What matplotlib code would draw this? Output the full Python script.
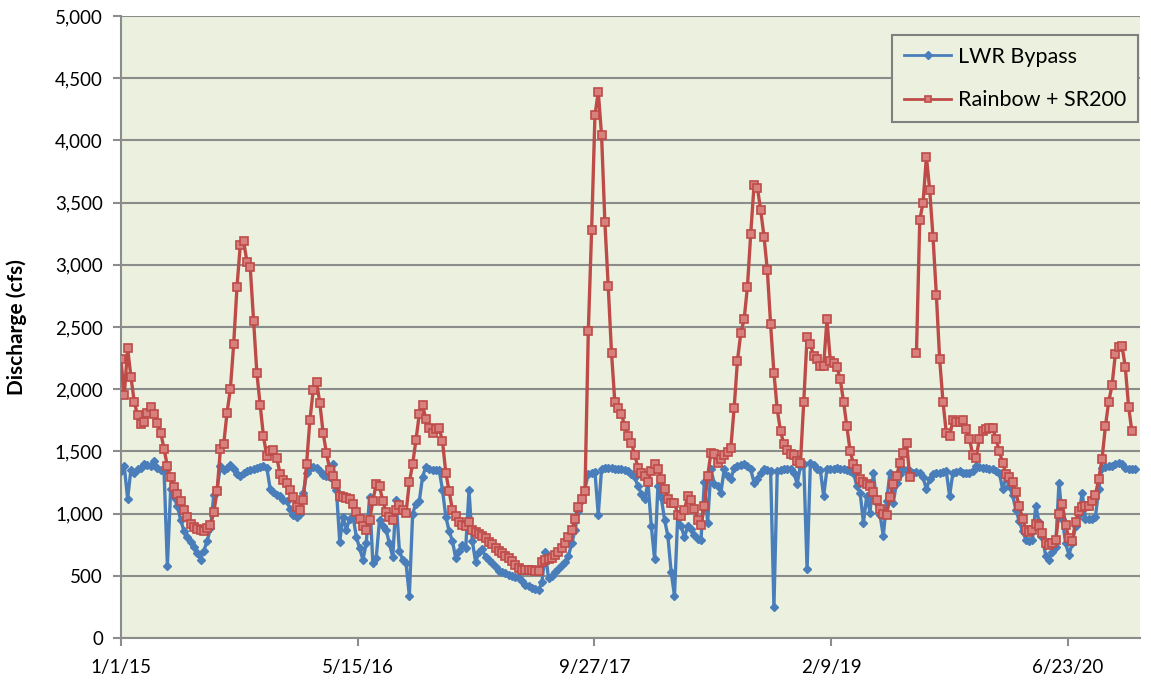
import numpy as np
import pandas as pd
import matplotlib
matplotlib.use("Agg")
import matplotlib.pyplot as plt
from matplotlib.ticker import FuncFormatter, MultipleLocator

plt.rcParams['font.family'] = ['Lato', 'DejaVu Sans']

# weekly readings starting 1/1/15 (cfs)
start = pd.Timestamp('2015-01-01')

lwr_bypass = [
    1340, 1380, 1120, 1350, 1330, 1360, 1370, 1400, 1390, 1380,
    1420, 1370, 1350, 1340, 580, 1200, 1130, 1060, 950, 860,
    810, 770, 730, 680, 630, 700, 780, 880, 1150, 1200,
    1380, 1350, 1370, 1390, 1360, 1320, 1300, 1330, 1345, 1350,
    1360, 1370, 1375, 1380, 1370, 1200, 1170, 1150, 1140, 1110,
    1100, 1040, 990, 975, 1000, 1163, 1324, 1370, 1377, 1370,
    1340, 1310, 1300, 1297, 1400, 1190, 775, 976, 870, 960,
    980, 815, 720, 630, 760, 1136, 600, 640, 949, 900,
    868, 760, 650, 1110, 700, 627, 600, 340, 1000, 1080,
    1100, 1297, 1377, 1360, 1350, 1350, 1351, 1190, 976, 860,
    780, 640, 700, 750, 720, 1186, 780, 610, 690, 718,
    650, 628, 600, 570, 540, 530, 520, 510, 500, 490,
    480, 460, 425, 415, 405, 395, 386, 447, 688, 480,
    500, 530, 555, 585, 610, 660, 760, 869, 1020, 1111,
    1201, 1322, 1330, 1337, 990, 1360, 1367, 1367, 1365, 1360,
    1362, 1356, 1350, 1342, 1320, 1290, 1220, 1160, 1115, 1249,
    901, 634, 1222, 1130, 950, 821, 527, 340, 1000, 900,
    808, 901, 874, 830, 794, 790, 1250, 928, 1356, 1240,
    1222, 1169, 1356, 1300, 1276, 1370, 1382, 1390, 1396, 1380,
    1356, 1249, 1280, 1330, 1356, 1350, 1342, 250, 1342, 1350,
    1356, 1356, 1360, 1330, 1240, 1380, 1400, 553, 1409, 1390,
    1356, 1350, 1142, 1356, 1356, 1360, 1365, 1360, 1356, 1350,
    1340, 1329, 1222, 1168, 928, 1142, 1008, 1329, 1088, 990,
    821, 1100, 1329, 1088, 1249, 1320, 1356, 1350, 1340, 1329,
    1335, 1329, 1290, 1195, 1280, 1320, 1330, 1329, 1335, 1340,
    1142, 1329, 1335, 1340, 1330, 1329, 1329, 1340, 1382, 1375,
    1370, 1365, 1360, 1356, 1345, 1329, 1195, 1290, 1220, 1150,
    1030, 940, 860, 790, 781, 790, 1062, 930, 810, 660,
    630, 690, 730, 1249, 960, 760, 670, 760, 901, 990,
    1169, 955, 955, 960, 975, 1200, 1369, 1375, 1380, 1382,
    1395, 1405, 1400, 1370, 1356, 1360, 1356,
]

rainbow_sr200 = [
    2240, 1950, 2330, 2100, 1900, 1790, 1720, 1740, 1810, 1860,
    1800, 1730, 1650, 1520, 1380, 1290, 1210, 1160, 1100, 1030,
    970, 920, 895, 872, 865, 860, 880, 905, 1010, 1180,
    1520, 1560, 1810, 2000, 2360, 2820, 3160, 3190, 3025, 2980,
    2550, 2130, 1870, 1620, 1460, 1500, 1510, 1450, 1320, 1270,
    1245, 1190, 1130, 1056, 1030, 1110, 1400, 1750, 1990, 2060,
    1887, 1646, 1485, 1351, 1300, 1240, 1145, 1130, 1125, 1115,
    1075, 1010, 955, 900, 868, 950, 1100, 1240, 1220, 1100,
    1010, 970, 950, 1030, 1070, 1025, 1005, 1250, 1400, 1590,
    1800, 1870, 1760, 1690, 1650, 1680, 1690, 1580, 1330, 1180,
    1030, 980, 930, 910, 900, 930, 870, 850, 835, 820,
    800, 775, 755, 725, 700, 680, 660, 640, 620, 590,
    565, 548, 545, 544, 543, 542, 540, 610, 625, 635,
    645, 665, 690, 720, 760, 810, 870, 960, 1050, 1120,
    1180, 2470, 3280, 4200, 4390, 4040, 3340, 2830, 2290, 1895,
    1850, 1800, 1700, 1620, 1570, 1470, 1370, 1330, 1300, 1250,
    1340, 1400, 1360, 1280, 1200, 1120, 1088, 1088, 990, 981,
    1030, 1140, 1110, 1040, 950, 905, 1060, 1300, 1490, 1480,
    1410, 1440, 1470, 1495, 1530, 1850, 2230, 2450, 2560, 2820,
    3250, 3640, 3620, 3440, 3227, 2960, 2520, 2130, 1837, 1660,
    1560, 1510, 1480, 1470, 1420, 1410, 1900, 2420, 2360, 2265,
    2245, 2190, 2190, 2560, 2230, 2211, 2180, 2080, 1900, 1700,
    1500, 1400, 1356, 1276, 1255, 1240, 1222, 1170, 1110, 1035,
    1000, 990, 1130, 1240, 1302, 1409, 1489, 1570, 1290, np.nan,
    2290, 3360, 3500, 3870, 3600, 3220, 2760, 2240, 1900, 1650,
    1620, 1750, 1735, 1740, 1750, 1680, 1600, 1470, 1450, 1600,
    1660, 1680, 1690, 1685, 1600, 1500, 1410, 1320, 1290, 1250,
    1170, 1060, 960, 870, 850, 870, 915, 900, 840, 765,
    745, 760, 785, 1000, 1080, 910, 800, 780, 935, 1020,
    1050, 1062, 1062, 1100, 1150, 1280, 1440, 1700, 1900, 2030,
    2280, 2340, 2350, 2180, 1860, 1660,
]

tick_step_days = 500
n_ticks = 5

blue_dates = pd.date_range(start, periods=len(lwr_bypass), freq='7D')
red_dates = pd.date_range(start, periods=len(rainbow_sr200), freq='7D')

fig = plt.figure(figsize=(11.51, 6.84), dpi=100)
ax = fig.add_axes([0.1051, 0.0673, 0.8853, 0.9094])
ax.set_facecolor('#EBF1DE')

ax.plot(blue_dates, lwr_bypass, color='#4A7EBB', lw=2.4, marker='D',
        markersize=4.2, markerfacecolor='#4A7EBB', markeredgecolor='#4A7EBB',
        label='LWR Bypass', zorder=3)
ax.plot(red_dates, rainbow_sr200, color='#BE4B48', lw=2.4, marker='s',
        markersize=5.2, markerfacecolor='#D7807E', markeredgecolor='#BE4B48',
        markeredgewidth=1.2, label='Rainbow + SR200', zorder=4)

ax.set_xlim(start, start + pd.Timedelta(days=2152))
ax.set_ylim(0, 5000)
ax.yaxis.set_major_locator(MultipleLocator(500))
ax.yaxis.set_major_formatter(FuncFormatter(lambda v, p: f'{int(v):,}'))

xticks = [start + pd.Timedelta(days=tick_step_days * k) for k in range(n_ticks)]
ax.set_xticks(xticks)
ax.set_xticklabels([f'{d.month}/{d.day}/{d.year % 100}' for d in xticks])

ax.grid(axis='y', color='#8C8C8C', lw=1.5)
ax.set_axisbelow(True)
for s in ['top', 'right']:
    ax.spines[s].set_visible(False)
for s in ['left', 'bottom']:
    ax.spines[s].set_color('#8C8C8C')
    ax.spines[s].set_linewidth(1.5)
ax.tick_params(axis='both', colors='#8C8C8C', width=1.5, length=6,
               labelcolor='black', labelsize=13.5)
ax.tick_params(axis='y', pad=7)
ax.tick_params(axis='x', pad=9)

ax.set_ylabel('Discharge (cfs)', fontsize=15, fontweight='bold')
ax.yaxis.set_label_coords(-0.092, 0.5)

leg = ax.legend(loc='upper right', bbox_to_anchor=(0.998, 0.9695),
                borderaxespad=0, fancybox=False, framealpha=1,
                facecolor='#EBF1DE', edgecolor='#808080', fontsize=15.5,
                handlelength=2.2, labelspacing=1.1, borderpad=0.55,
                handletextpad=0.3, numpoints=1)
leg.get_frame().set_linewidth(1.5)
for h in leg.legend_handles:
    h.set_linewidth(2)
    h.set_markersize(4)

fig.savefig('out.png', dpi=100)
